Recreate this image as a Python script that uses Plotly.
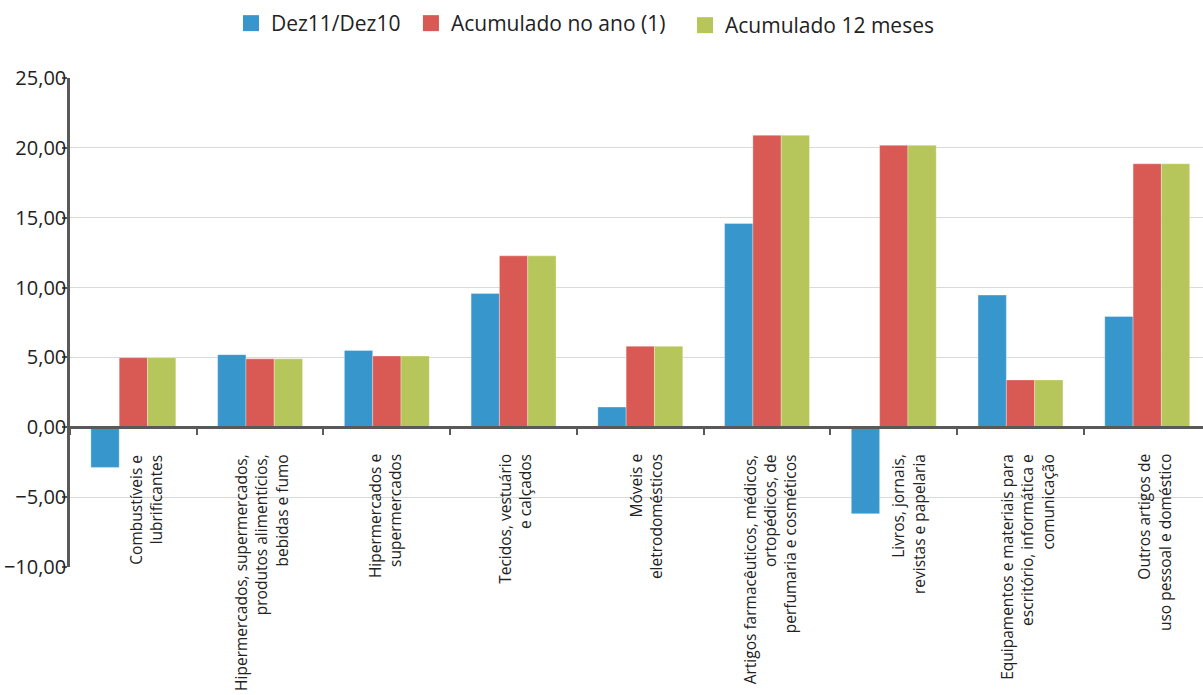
import plotly.graph_objects as go

categories = [
    "Combustíveis e<br>lubrificantes",
    "Hipermercados, supermercados,<br>produtos alimentícios,<br>bebidas e fumo",
    "Hipermercados e<br>supermercados",
    "Tecidos, vestuário<br>e calçados",
    "Móveis e<br>eletrodomésticos",
    "Artigos farmacêuticos, médicos,<br>ortopédicos, de<br>perfumaria e cosméticos",
    "Livros, jornais,<br>revistas e papelaria",
    "Equipamentos e materiais para<br>escritório, informática e<br>comunicação",
    "Outros artigos de<br>uso pessoal e doméstico",
]
dez11_dez10 = [-2.87, 5.20, 5.50, 9.58, 1.45, 14.59, -6.18, 9.46, 7.93]
acumulado_ano = [4.98, 4.90, 5.10, 12.27, 5.80, 20.90, 20.18, 3.39, 18.86]
acumulado_12m = [4.98, 4.90, 5.10, 12.27, 5.80, 20.90, 20.18, 3.39, 18.86]

series_names = ["Dez11/Dez10", "Acumulado no ano (1)", "Acumulado 12 meses"]
colors = ["#3797CD", "#D95A54", "#B7C65B"]
y_ticks = [-10, -5, 0, 5, 10, 15, 20, 25]

# style: horizontal pixel nudges of the category labels, legend placements
label_xshift = [13, 1, -2, 2, 5, 3, 15, 7, 7]
legend_x = [0.192, 0.3416, 0.5694]
legend_y = [0.9957, 0.9957, 0.9928]
legend_ids = ["legend", "legend2", "legend3"]

font_family = "Open Sans"
fig = go.Figure()
for name, vals, col in zip(series_names, [dez11_dez10, acumulado_ano, acumulado_12m], colors):
    fig.add_trace(go.Bar(
        x=categories, y=vals, name=name, showlegend=False,
        marker=dict(color=col, line=dict(color="rgba(255,255,255,0.6)", width=0.5)),
    ))
# legend entries (square swatches)
for name, col, lid in zip(series_names, colors, legend_ids):
    fig.add_trace(go.Scatter(
        x=[None], y=[None], mode="markers", name=name, legend=lid,
        marker=dict(symbol="square", size=18, color=col),
        showlegend=True, hoverinfo="skip",
    ))

legend_layout = {}
for lid, lx, ly in zip(legend_ids, legend_x, legend_y):
    legend_layout[lid] = dict(
        orientation="h", xref="container", x=lx, xanchor="left",
        yref="container", y=ly, yanchor="top",
        font=dict(size=21, color="#222222"), itemwidth=30,
        bgcolor="rgba(0,0,0,0)",
    )

y_min, y_max = -10, 25
for cat, dx in zip(categories, label_xshift):
    fig.add_annotation(
        x=cat, y=0, xref="x", yref="y", text=cat, showarrow=False,
        textangle=-90, align="right", xanchor="center", yanchor="top",
        yshift=-25, xshift=dx,
        font=dict(size=15.5, color="#222222", family=font_family),
    )

fig.update_layout(
    width=1203, height=695,
    margin=dict(l=70, r=0, t=78, b=128, autoexpand=False),
    paper_bgcolor="white", plot_bgcolor="white",
    separators=",.",
    barmode="group", bargap=0.33, bargroupgap=0,
    font=dict(family=font_family, color="#222222"),
    xaxis=dict(
        type="category",
        range=[-0.5, 8.44],
        anchor="free", position=(0 - y_min) / (y_max - y_min),
        showline=True, linecolor="#595959", linewidth=2.5,
        ticks="outside", ticklen=6, tickwidth=2, tickcolor="#595959",
        tickson="boundaries",
        showticklabels=False,
        showgrid=False,
        automargin=False,
    ),
    yaxis=dict(
        range=[y_min, y_max],
        tickvals=y_ticks,
        tickformat=".2f",
        showline=True, linecolor="#595959", linewidth=2.5,
        ticks="outside", ticklen=5, tickwidth=2, tickcolor="#595959",
        showgrid=True, gridcolor="#D9D9D9", gridwidth=1,
        zeroline=False,
        tickfont=dict(size=20, color="#222222"),
        ticklabelstandoff=-8,
        automargin=False,
    ),
    **legend_layout,
)

fig.write_html(
    "out.html",
    config={"displayModeBar": False},
    post_script="document.body.style.margin='0';document.body.style.overflow='hidden';",
)
